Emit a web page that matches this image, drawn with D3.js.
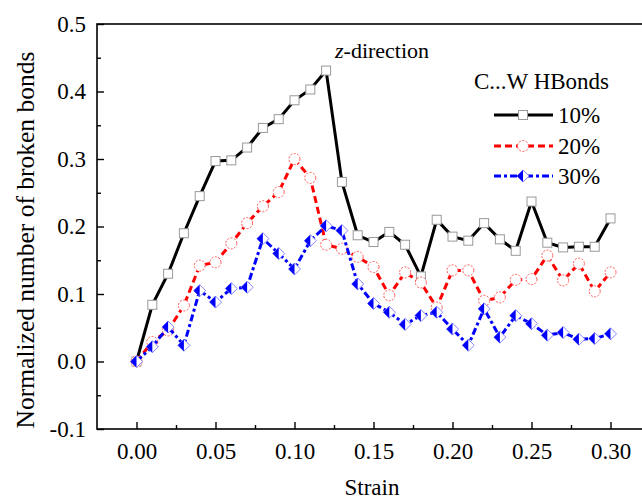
<!DOCTYPE html>
<html>
<head>
<meta charset="utf-8">
<script src="https://cdn.jsdelivr.net/npm/d3@7"></script>
<style>
body { margin: 0; background: #fff; }
svg text { font-family: "Liberation Serif", "Times New Roman", serif; fill: #000; }
</style>
</head>
<body>
<svg id="chart" width="642" height="502"></svg>
<script>
// strain values 0.00 .. 0.30
const strain = d3.range(31).map(i => +(i * 0.01).toFixed(2));
const hb10 = [0, 0.084, 0.13, 0.19, 0.245, 0.297, 0.298, 0.317, 0.346, 0.359, 0.387, 0.403, 0.431,
    0.266, 0.187, 0.177, 0.192, 0.173, 0.126, 0.21, 0.185, 0.179, 0.205, 0.181, 0.164, 0.237,
    0.176, 0.169, 0.170, 0.170, 0.212];
const hb20 = [0, 0.029, 0.046, 0.083, 0.142, 0.147, 0.175, 0.205, 0.23, 0.251, 0.30, 0.272, 0.173,
    0.167, 0.155, 0.14, 0.098, 0.132, 0.117, 0.08, 0.135, 0.135, 0.09, 0.095, 0.121, 0.122,
    0.157, 0.12, 0.145, 0.104, 0.132];
const hb30 = [0, 0.022, 0.051, 0.024, 0.105, 0.088, 0.108, 0.11, 0.182, 0.16, 0.137, 0.179, 0.201,
    0.194, 0.115, 0.086, 0.073, 0.055, 0.068, 0.073, 0.048, 0.024, 0.078, 0.036, 0.068, 0.056,
    0.039, 0.043, 0.033, 0.034, 0.041];
const seriesNames = ["10%", "20%", "30%"];
const xTicks = [0, 0.05, 0.10, 0.15, 0.20, 0.25, 0.30];
const yTicks = [-0.1, 0, 0.1, 0.2, 0.3, 0.4, 0.5];

const svg = d3.select('#chart');
const pLeft = 97, pTop = 24, pRight = 650, pBottom = 429;

const x = d3.scaleLinear().domain([-0.025, 0.325]).range([pLeft, pRight]);
const y = d3.scaleLinear().domain([-0.1, 0.5]).range([pBottom, pTop]);

// frame
svg.append('rect')
    .attr('x', pLeft).attr('y', pTop)
    .attr('width', pRight - pLeft).attr('height', pBottom - pTop)
    .attr('fill', 'none').attr('stroke', '#000').attr('stroke-width', 1.6);

// axes, ticks pointing inward
const xAxis = d3.axisBottom(x).tickValues(xTicks).tickFormat(d3.format('.2f')).tickSizeInner(-7).tickSizeOuter(0).tickPadding(14);
const gx = svg.append('g').attr('transform', `translate(0,${pBottom})`).call(xAxis);
const xMinor = d3.axisBottom(x).tickValues(d3.range(7).map(i => 0.025 + i * 0.05)).tickFormat('').tickSizeInner(-4).tickSizeOuter(0);
svg.append('g').attr('transform', `translate(0,${pBottom})`).call(xMinor);

const yAxis = d3.axisLeft(y).tickValues(yTicks).tickFormat(d => d3.format('.1f')(d).replace('−', '-')).tickSizeInner(-7).tickSizeOuter(0).tickPadding(11);
const gy = svg.append('g').attr('transform', `translate(${pLeft},0)`).call(yAxis);
const yMinor = d3.axisLeft(y).tickValues(d3.range(6).map(i => -0.05 + i * 0.1)).tickFormat('').tickSizeInner(-4).tickSizeOuter(0);
svg.append('g').attr('transform', `translate(${pLeft},0)`).call(yMinor);

svg.selectAll('.domain').remove();
svg.selectAll('g').attr('font-family', null).attr('font-size', null);
svg.selectAll('.tick line').attr('stroke', '#000').attr('stroke-width', 1.4);
svg.selectAll('.tick text').style('font-size', '23px');

// axis titles
svg.append('text').attr('x', 372).attr('y', 495).attr('text-anchor', 'middle')
    .style('font-size', '23px').text('Strain');
svg.append('text').attr('transform', 'translate(34,240) rotate(-90)').attr('text-anchor', 'middle')
    .style('font-size', '25.5px').text('Normalized number of broken bonds');

// annotation
const ann = svg.append('text').attr('x', 335).attr('y', 58).style('font-size', '22px');
ann.append('tspan').style('font-style', 'italic').text('z');
ann.append('tspan').text('-direction');

const line = d3.line().x((d, i) => x(strain[i])).y(d => y(d));

const styles = [
    { data: hb10, color: '#000', dash: null, marker: 'square' },
    { data: hb20, color: '#ff0000', dash: '7,4', marker: 'circle' },
    { data: hb30, color: '#0000ff', dash: '7,3,3,3', marker: 'tri' }
];

function drawMarker(g, type, px, py) {
    if (type === 'square') {
        g.append('rect').attr('x', px - 4.5).attr('y', py - 4.5).attr('width', 9).attr('height', 9)
            .attr('fill', '#fff').attr('stroke', '#999').attr('stroke-width', 1);
    } else if (type === 'circle') {
        g.append('circle').attr('cx', px).attr('cy', py).attr('r', 5.5)
            .attr('fill', '#fff').attr('stroke', '#ff5555').attr('stroke-width', 1).attr('stroke-dasharray', '2,1.5');
    } else {
        g.append('path').attr('d', `M${px - 6},${py}L${px},${py - 6}L${px + 6},${py}L${px},${py + 6}Z`)
            .attr('fill', '#fff').attr('stroke', '#8888ff').attr('stroke-width', 1);
        g.append('path').attr('d', `M${px - 6},${py}L${px},${py - 6}L${px},${py + 6}Z`)
            .attr('fill', '#0000ff');
    }
}

styles.forEach(s => {
    svg.append('path').datum(s.data).attr('d', line)
        .attr('fill', 'none').attr('stroke', s.color).attr('stroke-width', 3)
        .attr('stroke-dasharray', s.dash);
    const g = svg.append('g');
    s.data.forEach((v, i) => drawMarker(g, s.marker, x(strain[i]), y(v)));
});

// legend
svg.append('text').attr('x', 474).attr('y', 89).style('font-size', '23px').text('C...W HBonds');
const legY = [115, 146, 176];
styles.forEach((s, i) => {
    svg.append('line').attr('x1', 494).attr('x2', 553).attr('y1', legY[i]).attr('y2', legY[i])
        .attr('stroke', s.color).attr('stroke-width', 3).attr('stroke-dasharray', s.dash);
    drawMarker(svg, s.marker, 523, legY[i]);
    svg.append('text').attr('x', 558).attr('y', legY[i] + 8).style('font-size', '23px').text(seriesNames[i]);
});
</script>
</body>
</html>
